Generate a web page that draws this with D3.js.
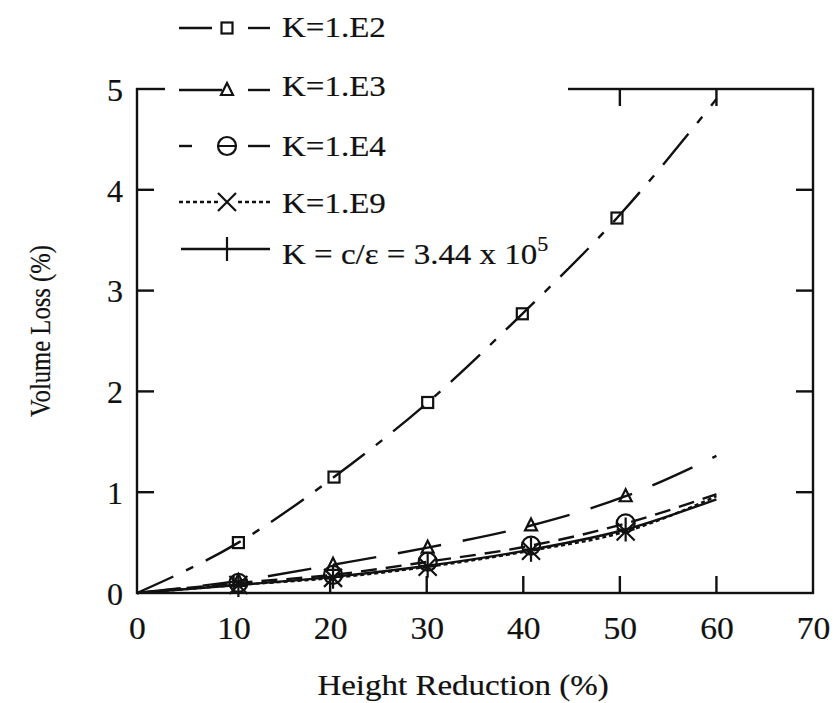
<!DOCTYPE html>
<html>
<head>
<meta charset="utf-8">
<script src="https://cdn.jsdelivr.net/npm/d3@7"></script>
<style>
  html, body { margin: 0; padding: 0; background: #fff; }
  svg { display: block; }
</style>
</head>
<body>
<svg id="chart" width="835" height="703"></svg>
<script>
// ---------------- data ----------------
const xTicks = [0, 10, 20, 30, 40, 50, 60, 70];
const yTicks = [0, 1, 2, 3, 4, 5];
const xTitle = "Height Reduction (%)";
const yTitle = "Volume Loss (%)";

const seriesNames = ["K=1.E2", "K=1.E3", "K=1.E4", "K=1.E9", "K = c/\u03B5 = 3.44 x 10"];

// marker points
const e2X = [10.5, 20.4, 30.1, 39.9, 49.7];
const e2Y = [0.50, 1.15, 1.89, 2.77, 3.72];
const e3X = [10.5, 20.3, 30.1, 40.8, 50.6];
const e3Y = [0.12, 0.28, 0.45, 0.67, 0.96];
const e4X = [10.5, 20.3, 30.1, 40.8, 50.6];
const e4Y = [0.10, 0.18, 0.31, 0.47, 0.69];
const e9X = [10.5, 20.3, 30.1, 40.8, 50.6];
const e9Y = [0.08, 0.15, 0.26, 0.42, 0.61];
const ceX = [10.5, 20.3, 30.1, 40.8, 50.6];
const ceY = [0.08, 0.16, 0.27, 0.43, 0.63];

// curve end values at x = 60 (curves start at 0,0)
const curveEndX = 60;
const curveEndY = [4.90, 1.36, 0.98, 0.96, 0.93];

// ---------------- layout ----------------
const FONT = "'Liberation Serif', 'Times New Roman', Times, 'DejaVu Serif', serif";
const INK = "#111";
const svg = d3.select("#chart").attr("font-family", FONT);
const X0 = 137, X1 = 813, Y0 = 593, Y1 = 89;
const x = d3.scaleLinear().domain([0, 70]).range([X0, X1]);
const y = d3.scaleLinear().domain([0, 5]).range([Y0, Y1]);

const styles = [
  { dash: "40,14,8,14", marker: "square" },
  { dash: "44,22", marker: "triangle" },
  { dash: "16,9", marker: "circle" },
  { dash: "4,3", marker: "x" },
  { dash: null, marker: "plus" }
];

const series = [
  { xs: e2X, ys: e2Y }, { xs: e3X, ys: e3Y }, { xs: e4X, ys: e4Y },
  { xs: e9X, ys: e9Y }, { xs: ceX, ys: ceY }
];

function drawMarker(g, type, cx, cy) {
  const s = g.append("g").attr("transform", `translate(${cx},${cy})`)
    .attr("fill", "none").attr("stroke", INK).attr("stroke-width", 2.2);
  if (type === "square") s.append("rect").attr("x", -5.5).attr("y", -5.5).attr("width", 11).attr("height", 11);
  else if (type === "triangle") s.append("path").attr("d", "M0,-7L6,5L-6,5Z");
  else if (type === "circle") s.append("circle").attr("r", 9);
  else if (type === "x") s.append("path").attr("d", "M-9,-9L9,9M-9,9L9,-9");
  else if (type === "plus") s.append("path").attr("d", "M0,-12L0,12M-9,0L9,0");
}

function styleText(sel, size) {
  sel.attr("font-family", FONT).style("font-family", FONT).style("font-size", size + "px")
    .attr("fill", INK).attr("stroke", INK).attr("stroke-width", 0.2);
  return sel;
}

// ---------------- data lines ----------------
const line = d3.line().x(d => x(d[0])).y(d => y(d[1])).curve(d3.curveMonotoneX);
const plot = svg.append("g");
series.forEach((s, i) => {
  const pts = [[0, 0]].concat(s.xs.map((v, j) => [v, s.ys[j]])).concat([[curveEndX, curveEndY[i]]]);
  const p = plot.append("path").datum(pts).attr("d", line)
    .attr("fill", "none").attr("stroke", INK).attr("stroke-width", 2.4);
  if (styles[i].dash) p.attr("stroke-dasharray", styles[i].dash);
});
series.forEach((s, i) => {
  s.xs.forEach((v, j) => drawMarker(plot, styles[i].marker, x(v), y(s.ys[j])));
});

// ---------------- frame & ticks ----------------
const frame = svg.append("g").attr("stroke", INK).attr("stroke-width", 2.4).attr("fill", "none");
frame.append("rect").attr("x", X0).attr("y", Y1).attr("width", X1 - X0).attr("height", Y0 - Y1);
const TL = 17;
xTicks.slice(1, -1).forEach(t => {
  frame.append("line").attr("x1", x(t)).attr("x2", x(t)).attr("y1", Y0).attr("y2", Y0 - TL);
  frame.append("line").attr("x1", x(t)).attr("x2", x(t)).attr("y1", Y1).attr("y2", Y1 + TL);
});
yTicks.slice(1, -1).forEach(t => {
  frame.append("line").attr("x1", X0).attr("x2", X0 + TL).attr("y1", y(t)).attr("y2", y(t));
  frame.append("line").attr("x1", X1).attr("x2", X1 - TL).attr("y1", y(t)).attr("y2", y(t));
});

// tick labels through axis generators (domain/ticks hidden)
const xAxis = d3.axisBottom(x).tickValues(xTicks).tickSize(0).tickPadding(0).tickFormat(d3.format("d"));
const gx = svg.append("g").attr("transform", `translate(0,${Y0})`).call(xAxis).attr("font-family", FONT);
gx.select(".domain").remove();
styleText(gx.selectAll("text").attr("dy", null).attr("y", 46).attr("transform", "scale(1.05,1)"), 32);

const yAxis = d3.axisLeft(y).tickValues(yTicks).tickSize(0).tickPadding(0).tickFormat(d3.format("d"));
const gy = svg.append("g").attr("transform", `translate(${X0},0)`).call(yAxis).attr("font-family", FONT);
gy.select(".domain").remove();
styleText(gy.selectAll("text").attr("x", -14).attr("dy", "0.35em"), 32);

// titles
styleText(svg.append("text").attr("transform", "translate(463,695) scale(1.1,1)").attr("text-anchor", "middle"), 30).text(xTitle);
styleText(svg.append("text").attr("transform", "translate(50,331) rotate(-90) scale(0.85,1)").attr("text-anchor", "middle"), 29).text(yTitle);

// ---------------- legend ----------------
const leg = svg.append("g");
leg.append("rect").attr("x", 165).attr("y", 0).attr("width", 403).attr("height", 268).attr("fill", "#fff");
const rowLineY = [28, 90, 146, 202, 249];
const rowTextY = [37, 96, 156, 213, 264];
const legSegs = [
  [[179, 212], [248, 270]],
  [[179, 222], [248, 270]],
  [[179, 192], [248, 270]],
  [[179, 218], [238, 272]],
  [[181, 270]]
];
seriesNames.forEach((name, i) => {
  const ly = rowLineY[i];
  legSegs[i].forEach(seg => {
    const l = leg.append("line").attr("x1", seg[0]).attr("x2", seg[1]).attr("y1", ly).attr("y2", ly)
      .attr("stroke", INK).attr("stroke-width", 2.4);
    if (i === 3) l.attr("stroke-dasharray", "4,3");
  });
  if (i === 2) leg.append("line").attr("x1", 218).attr("x2", 236).attr("y1", ly).attr("y2", ly)
    .attr("stroke", INK).attr("stroke-width", 2);
  drawMarker(leg, styles[i].marker, 227, ly);
  const t = styleText(leg.append("text").attr("transform", `translate(282,${rowTextY[i]}) scale(1.1,1)`), 30).text(name);
  if (i === 4) t.append("tspan").attr("dy", -13).style("font-size", "20px").text("5");
});
</script>
</body>
</html>
